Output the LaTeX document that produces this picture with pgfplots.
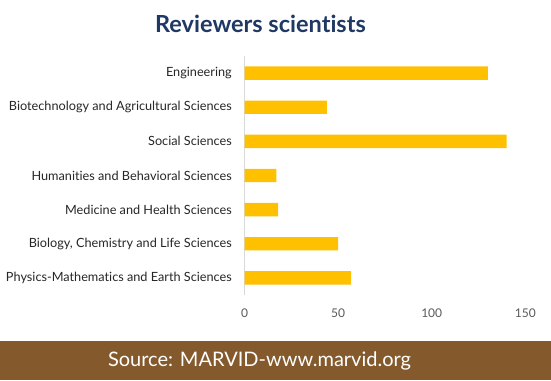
\documentclass[border=0pt]{standalone}
\usepackage{pgfplots}
\pgfplotsset{compat=1.18}
\usepackage{fontspec}
\setmainfont{Lato}[Ligatures={NoCommon,NoRare,NoDiscretionary}]
\definecolor{bargold}{HTML}{FFC000}
\definecolor{titleblue}{HTML}{1F3864}
\definecolor{bandbrown}{HTML}{845A2D}
\definecolor{labelgray}{HTML}{262626}
\definecolor{tickgray}{HTML}{595959}
\definecolor{axisgray}{HTML}{D9D9D9}
\begin{document}
\begin{tikzpicture}[x=1pt,y=1pt]
\path (0,0) rectangle (551,380);
\fill[bandbrown] (0,0) rectangle (551,39);
\node[text=white, font=\fontsize{20}{24}\selectfont] at (259.5,19.5) {Source: MARVID-www.marvid.org};
\node[text=titleblue, font=\fontsize{23.5}{28}\selectfont\bfseries] at (260.5,356) {Reviewers scientists};
\begin{axis}[
  at={(244.5pt,85pt)}, anchor=south west,
  scale only axis, width=280.8pt, height=239pt,
  xbar, bar width=13.4pt,
  xmin=0, xmax=150, ymin=-0.5, ymax=6.5,
  ytick={0,1,2,3,4,5,6},
  yticklabels={Physics-Mathematics and Earth Sciences, {Biology, Chemistry and Life Sciences}, Medicine and Health Sciences, Humanities and Behavioral Sciences, Social Sciences, Biotechnology and Agricultural Sciences, Engineering},
  xtick={0,50,100,150},
  axis lines*=left,
  x axis line style={draw=none},
  y axis line style={draw=axisgray, line width=0.8pt},
  major tick length=0pt,
  /pgf/number format/assume math mode=true,
  yticklabel style={inner sep=0pt, anchor=east, xshift=-12.5pt, text=labelgray, font=\fontsize{12.7}{15}\selectfont},
  xticklabel style={inner sep=0pt, anchor=north, yshift=-13.5pt, text=tickgray, font=\fontsize{12}{14}\selectfont},
]
\addplot[fill=bargold, draw=none] coordinates {(57,0) (50,1) (18,2) (17,3) (140,4) (44,5) (130,6)};
\end{axis}
\end{tikzpicture}
\end{document}
